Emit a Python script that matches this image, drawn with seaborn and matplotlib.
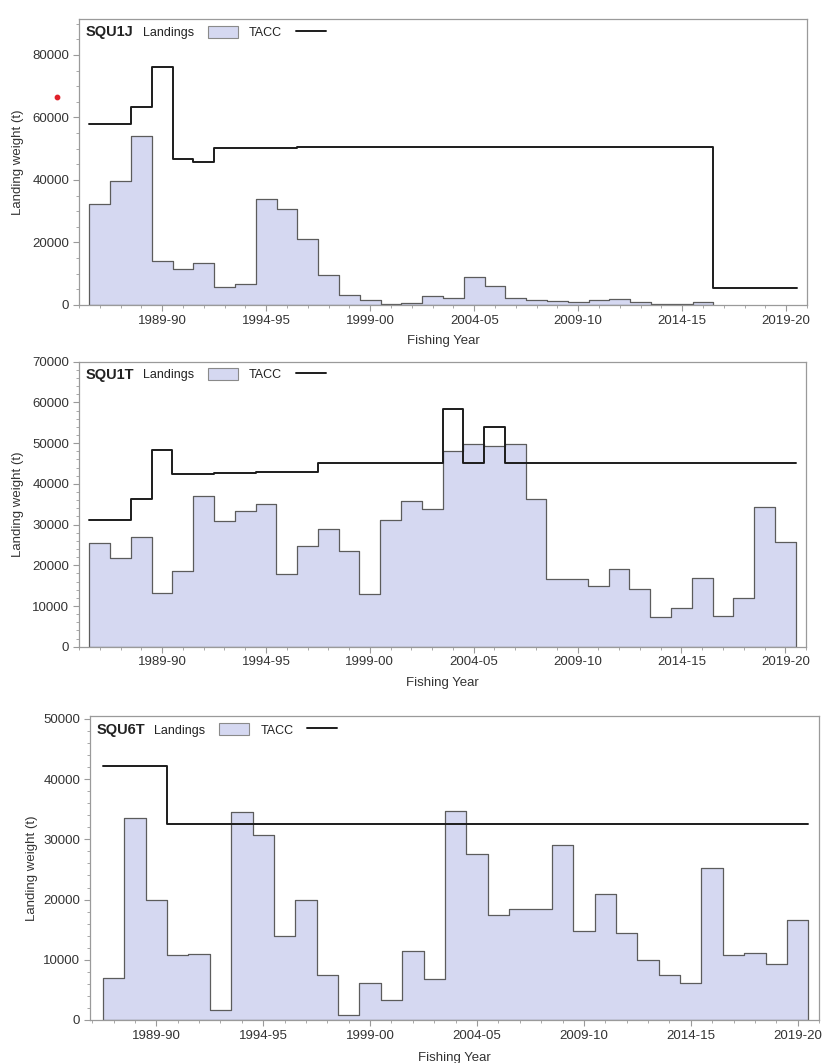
import matplotlib
matplotlib.use("Agg")
import matplotlib.pyplot as plt
from matplotlib.ticker import MultipleLocator, FixedLocator, FuncFormatter
from matplotlib.patches import Patch
from matplotlib.lines import Line2D
import seaborn as sns

# fishing years are keyed by their start year (1986 -> "1986-87")
squ1j_start = 1986
squ1j_landings = [32300, 39800, 54100, 14100, 11600, 13400, 5700, 6600, 33800, 30800,
                  21000, 9500, 3300, 1700, 400, 700, 2900, 2300, 9100, 6100,
                  2300, 1600, 1200, 900, 1600, 1900, 1000, 300, 300, 1100]
squ1j_tacc = [57900, 57900, 63500, 76300, 46600, 45900, 50100, 50100, 50100, 50100,
              50600, 50600, 50600, 50600, 50600, 50600, 50600, 50600, 50600, 50600,
              50600, 50600, 50600, 50600, 50600, 50600, 50600, 50600, 50600, 50600,
              5300, 5300, 5300, 5300]

squ1t_start = 1986
squ1t_landings = [25600, 21900, 26900, 13100, 18700, 36900, 30900, 33400, 35100, 17800,
                  24800, 28900, 23400, 12900, 31100, 35900, 33800, 48100, 49800, 49400,
                  49800, 36300, 16600, 16700, 14800, 19000, 14100, 7300, 9600, 17000,
                  7600, 11900, 34200, 25700]
squ1t_tacc = [31100, 31100, 36200, 48300, 42400, 42400, 42700, 42700, 42900, 42900,
              42900, 45100, 45100, 45100, 45100, 45100, 45100, 58400, 45100, 53900,
              45100, 45100, 45100, 45100, 45100, 45100, 45100, 45100, 45100, 45100,
              45100, 45100, 45100, 45100]

squ6t_start = 1987
squ6t_landings = [7000, 33500, 20000, 10800, 11000, 1600, 34600, 30800, 14000, 19900,
                  7400, 900, 6200, 3300, 11500, 6800, 34700, 27500, 17400, 18500,
                  18500, 29000, 14700, 21000, 14400, 9900, 7500, 6100, 25300, 10800,
                  11200, 9300, 16600]
squ6t_tacc = [42200, 42200, 42200] + [32600] * 30

FILL = "#d5d8f1"
EDGE = "#5c5c5c"
LINE = "#1c1c1c"
SPINE = "#9a9a9a"
TEXT = "#333333"

sns.set_theme(style="white")
plt.rcParams["font.family"] = ["Liberation Sans", "DejaVu Sans"]


def fy_label(y, pos=None):
    y = int(round(y))
    return f"{y}-{(y + 1) % 100:02d}"


def draw_panel(ax, stock, start, landings, tacc, ylim, ymajor, yminor, xlim, ylab_x):
    yrs_l = list(range(start, start + len(landings)))
    yrs_t = list(range(start, start + len(tacc)))
    sns.histplot(x=yrs_l, weights=landings, discrete=True, element="step",
                 fill=True, color=FILL, edgecolor=EDGE, linewidth=0.9, alpha=1,
                 ax=ax, zorder=2)
    sns.histplot(x=yrs_t, weights=tacc, discrete=True, element="step",
                 fill=False, color=LINE, linewidth=1.4, ax=ax, zorder=3)

    ax.set_xlim(*xlim)
    ax.set_ylim(*ylim)
    ax.xaxis.set_major_locator(FixedLocator(list(range(1989, 2020, 5))))
    ax.xaxis.set_minor_locator(MultipleLocator(1))
    ax.xaxis.set_major_formatter(FuncFormatter(fy_label))
    ax.yaxis.set_major_locator(MultipleLocator(ymajor))
    ax.yaxis.set_minor_locator(MultipleLocator(yminor))
    ax.yaxis.set_major_formatter(FuncFormatter(lambda v, p: f"{int(v)}"))
    ax.tick_params(axis="both", which="major", direction="out", length=4, width=0.8,
                   color=SPINE, labelsize=9.5, labelcolor=TEXT, pad=3,
                   bottom=True, left=True)
    ax.tick_params(axis="both", which="minor", direction="out", length=2, width=0.6,
                   color=SPINE, bottom=True, left=True)
    for s in ax.spines.values():
        s.set_color(SPINE)
        s.set_linewidth(0.9)

    ax.set_xlabel("Fishing Year", fontsize=9.5, color=TEXT)
    ax.set_ylabel("Landing weight (t)", fontsize=9.5, color=TEXT)
    ax.xaxis.set_label_coords(0.5, -0.105)
    ax.yaxis.set_label_coords(ylab_x, 0.5)

    ax.text(0.009, 0.954, stock, transform=ax.transAxes, fontsize=10.5,
            fontweight="bold", color="#222222", va="center", ha="left")
    handles = [Patch(facecolor=FILL, edgecolor="#8a8a8a", linewidth=0.8),
               Line2D([], [], color=LINE, linewidth=1.4)]
    ax.legend(handles, ["Landings", "TACC"], ncol=2, markerfirst=False,
              frameon=False, loc="center left", bbox_to_anchor=(0.088, 0.954),
              borderaxespad=0, borderpad=0, handlelength=2.4, handleheight=1.1,
              handletextpad=1.1, columnspacing=0.9, fontsize=9,
              labelcolor="#222222")


fig = plt.figure(figsize=(8.23, 10.63), dpi=100)
ax1 = fig.add_axes([0.0960, 0.7131, 0.8846, 0.2690])
ax2 = fig.add_axes([0.0960, 0.3916, 0.8834, 0.2681])
ax3 = fig.add_axes([0.1094, 0.0405, 0.8858, 0.2860])

draw_panel(ax1, "SQU1J", squ1j_start, squ1j_landings, squ1j_tacc,
           (0, 91500), 20000, 5000, (1985.0, 2020.0), -0.076)
draw_panel(ax2, "SQU1T", squ1t_start, squ1t_landings, squ1t_tacc,
           (0, 70000), 10000, 2000, (1985.0, 2020.0), -0.076)
draw_panel(ax3, "SQU6T", squ6t_start, squ6t_landings, squ6t_tacc,
           (0, 50500), 10000, 2000, (1985.9, 2020.0), -0.072)

# stray red dot left of the first panel's y axis in the source image
ax1.scatter([-0.030], [0.727], s=10, color="#e0202a", transform=ax1.transAxes,
            clip_on=False, zorder=5)

fig.savefig("out.png", dpi=100)
